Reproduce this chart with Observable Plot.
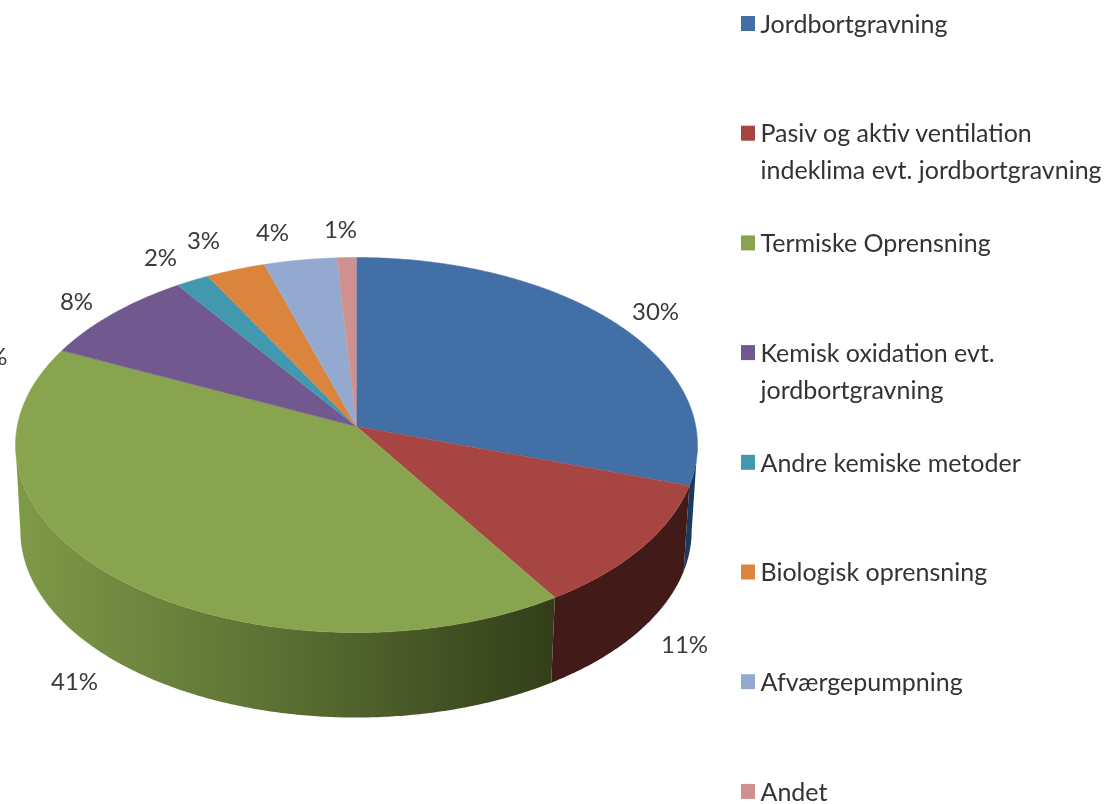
<!DOCTYPE html>
<html><head><meta charset="utf-8">
<script src="https://cdn.jsdelivr.net/npm/d3@7"></script>
<script src="https://cdn.jsdelivr.net/npm/@observablehq/plot@0.6"></script>
<style>html,body{margin:0;padding:0;background:#fff;overflow:hidden}svg{display:block;filter:blur(0.6px)}</style>
</head><body><div id="chart"></div>
<script>
const categories = ["Jordbortgravning","Pasiv og aktiv ventilation\nindeklima evt. jordbortgravning","Termiske Oprensning","Kemisk oxidation evt.\njordbortgravning","Andre kemiske metoder","Biologisk oprensning","Afværgepumpning","Andet"];
const values = [30, 11, 41, 8.35, 1.75, 3.1, 3.8, 1];
const percentLabels = ["30%","11%","41%","8%","2%","3%","4%","1%"];
const topColors = ["#426fa5","#a64542","#89a44f","#71588f","#4198af","#db843d","#93a9cf","#cf9190"];
const wallColors = ["#1a3a5e","#421a18","url(#greenWall)"];
const labelX = [655,684,74,76,160,203,272,340];
const labelY = [312,645,682,302,258,241,233,230];

// perspective disc: top rim and bottom rim
const topDisc = {cx:356, cy:426, rx:339.3, ry:185.7, k:0.0987};
const bottomDisc = {cx:355.5, cy:512, rx:334, ry:184.8, k:0.0987};
function project(d, deg){
  const t = deg*Math.PI/180, u = Math.sin(t), v = -Math.cos(t), w = 1-d.k*v;
  return [d.cx+d.rx*u/w, d.cy+d.ry*v/w];
}
const total = d3.sum(values);
const cum = d3.cumsum(values);
const starts = values.map((v,i)=> (i?cum[i-1]:0)/total*360);
const ends = values.map((v,i)=> cum[i]/total*360);
function arc(a,b){const s=[];for(let t=a;t<b;t+=0.5)s.push(t);s.push(b);return s;}

const topRows = categories.flatMap((c,i)=>{
  const pts = [[topDisc.cx,topDisc.cy],...arc(starts[i],ends[i]).map(t=>project(topDisc,t))];
  return pts.map(([x,y])=>({c,x,y}));
});
function wall(a,b){
  const A = arc(a,b);
  return [...A.map(t=>project(topDisc,t)),...A.slice().reverse().map(t=>project(bottomDisc,t))].map(([x,y])=>({x,y}));
}
const wallRanges = [[95.7,ends[0]],[ends[0],ends[1]],[ends[1],264.3]];

const legendY = i => 24+i*109.7;
const plot = Plot.plot({
  width:1106,height:804,margin:0,
  x:{domain:[0,1106],range:[0,1106],axis:null},
  y:{domain:[0,804],range:[0,804],axis:null},
  color:{type:"ordinal",domain:categories,range:topColors},
  style:{background:"#fff"},
  marks:[
    ...wallRanges.map((r,i)=>Plot.line(wall(r[0],r[1]),{x:"x",y:"y",fill:wallColors[i],stroke:"none"})),
    Plot.line(topRows,{x:"x",y:"y",z:"c",fill:"c",stroke:"c",strokeWidth:0.5}),
    Plot.text(percentLabels,{x:(d,i)=>labelX[i],y:(d,i)=>labelY[i],text:d=>d,fontFamily:"Lato",fontSize:24,fill:"#3a3a3a"}),
    Plot.text(["%"],{x:()=>7,y:()=>357,text:d=>d,textAnchor:"end",fontFamily:"Lato",fontSize:24,fill:"#3a3a3a"}),
    Plot.rect(categories,{x1:()=>741,x2:()=>755,y1:(d,i)=>legendY(i)-8,y2:(d,i)=>legendY(i)+7,fill:d=>d}),
    Plot.text(categories,{x:()=>760,y:(d,i)=>legendY(i)-18,text:d=>d,textAnchor:"start",lineAnchor:"top",lineHeight:1.48,fontFamily:"Lato",fontSize:25,fill:"#333"})
  ]
});
plot.insertAdjacentHTML("afterbegin",`<defs><linearGradient id="greenWall" x1="0" x2="1" y1="0" y2="0">
<stop offset="0" stop-color="#7f9a47"/><stop offset="0.5" stop-color="#5a6f33"/><stop offset="1" stop-color="#323e19"/></linearGradient></defs>`);
document.getElementById("chart").append(plot);
</script></body></html>
